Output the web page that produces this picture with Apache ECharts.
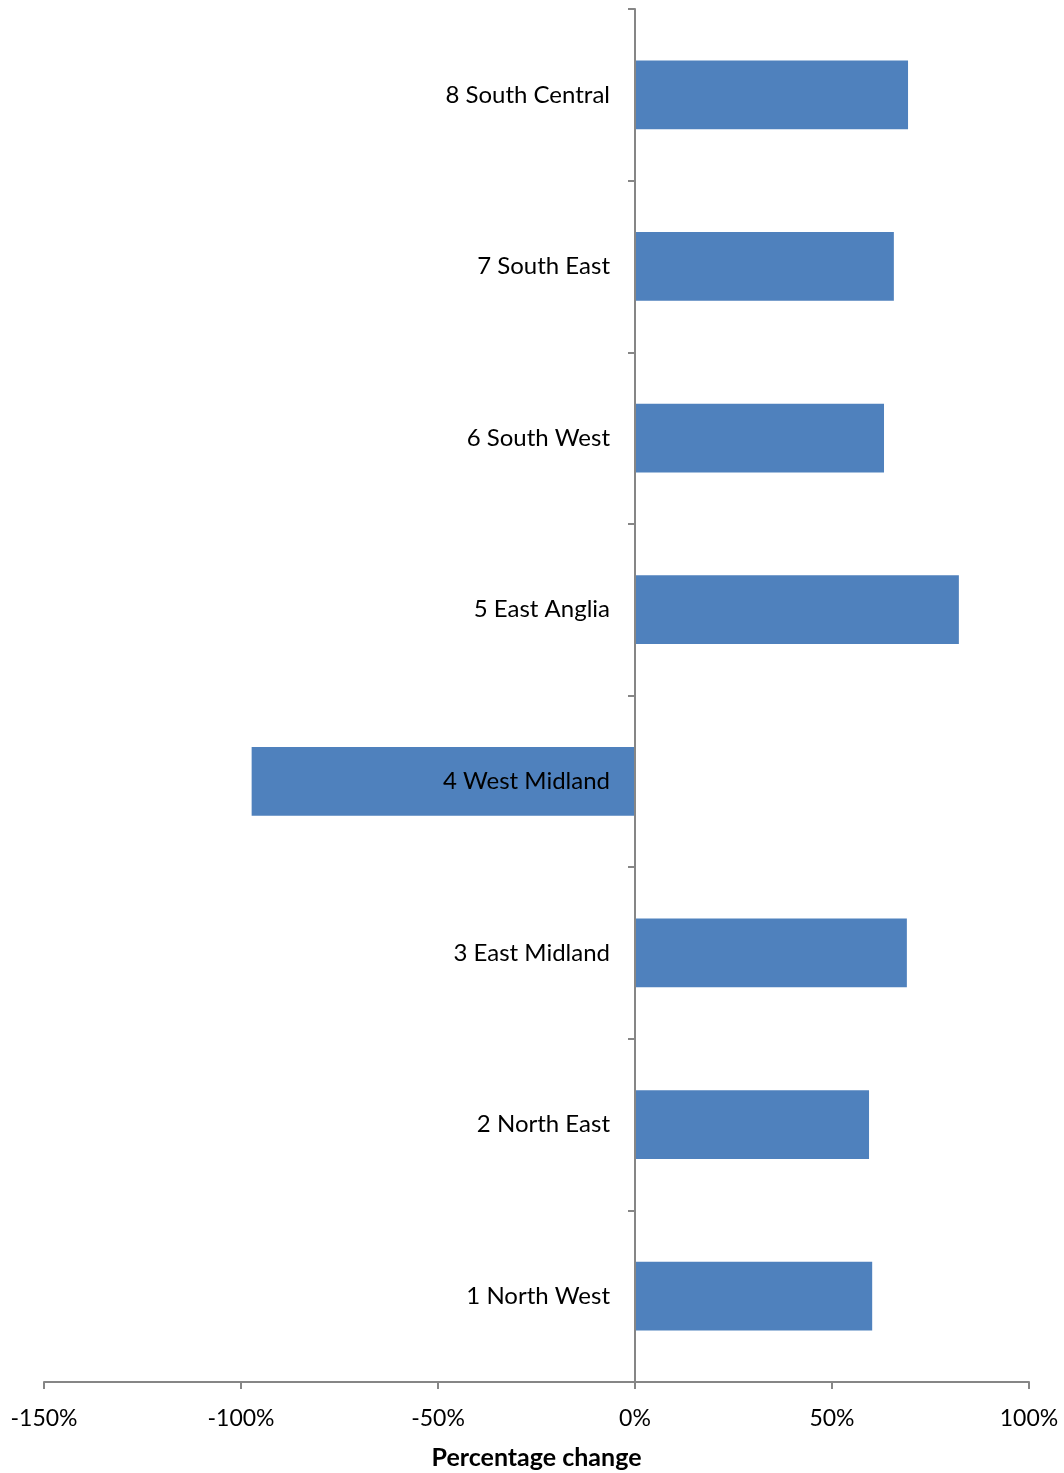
<!DOCTYPE html>
<html>
<head>
<meta charset="utf-8">
<script src="https://cdn.jsdelivr.net/npm/echarts@6/dist/echarts.min.js"></script>
<style>
html,body{margin:0;padding:0;background:#fff;}
#chart{width:1064px;height:1473px;}
</style>
</head>
<body>
<div id="chart"></div>
<script>
var categories = ['1 North West','2 North East','3 East Midland','4 West Midland','5 East Anglia','6 South West','7 South East','8 South Central'];
var values = [60.2, 59.4, 69.0, -97.3, 82.2, 63.2, 65.7, 69.3];
var xTicks = [-150, -100, -50, 0, 50, 100];

var gridLeft = 44, gridRight = 35, chartW = 1064;
var plotW = chartW - gridLeft - gridRight;
var xMin = xTicks[0], xMax = xTicks[xTicks.length-1];
// place the category axis at the value-axis zero
var zeroOffset = -plotW * (0 - xMin) / (xMax - xMin);

var chart = echarts.init(document.getElementById('chart'));
chart.setOption({
  animation: false,
  backgroundColor: '#ffffff',
  textStyle: {fontFamily: 'Lato'},
  grid: {left: gridLeft, right: gridRight, top: 9, bottom: 91, containLabel: false, outerBoundsMode: 'none'},
  xAxis: {
    type: 'value',
    min: xMin, max: xMax, interval: 50,
    splitLine: {show: false},
    axisLine: {show: true, onZero: false, lineStyle: {color: '#868686', width: 2}},
    axisTick: {show: true, length: 7, lineStyle: {color: '#868686', width: 2}},
    axisLabel: {formatter: '{value}%', fontSize: 23, color: '#000', margin: 25, fontFamily: 'Lato'},
    name: 'Percentage change', nameLocation: 'middle', nameGap: 63,
    nameTextStyle: {fontSize: 25, fontWeight: 'bold', color: '#000', fontFamily: 'Lato'}
  },
  yAxis: {
    type: 'category', data: categories, z: 5,
    position: 'left', offset: zeroOffset,
    axisLine: {show: true, onZero: false, lineStyle: {color: '#868686', width: 2}},
    axisTick: {show: true, length: 7, lineStyle: {color: '#868686', width: 2}},
    axisLabel: {fontSize: 24, color: '#000', margin: 25, fontFamily: 'Lato'}
  },
  series: [{
    type: 'bar', data: values, barCategoryGap: '60%',
    itemStyle: {color: '#4F81BD'}
  }]
});
</script>
</body>
</html>
